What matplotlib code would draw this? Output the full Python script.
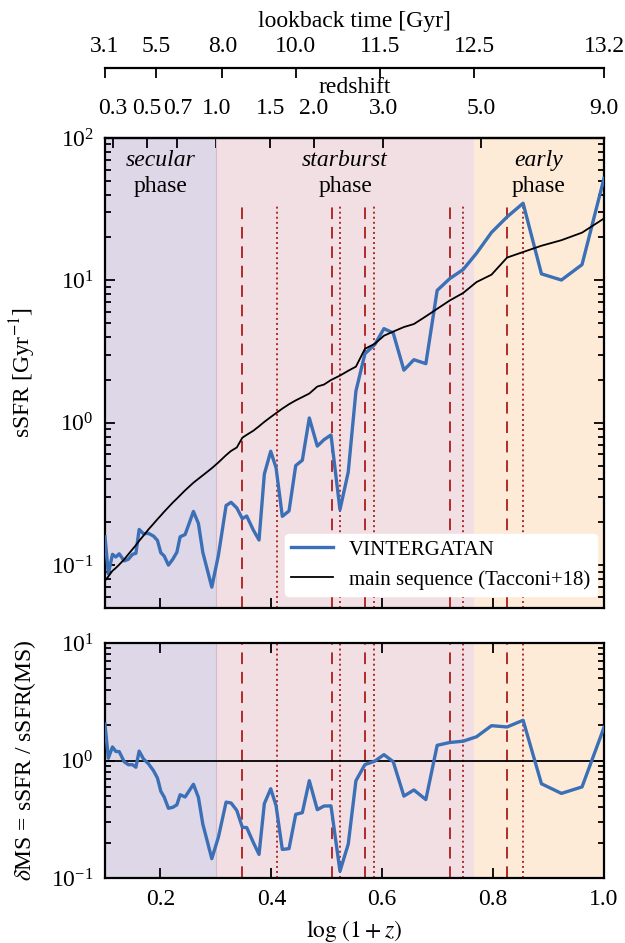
import numpy as np
import matplotlib
matplotlib.use("Agg")
import matplotlib.pyplot as plt
from matplotlib.ticker import LogLocator, LogFormatterMathtext, NullFormatter

plt.rcParams['font.family'] = ['Liberation Serif', 'DejaVu Serif']
plt.rcParams['mathtext.fontset'] = 'stix'

# ---------------- data ----------------
logz = [0.100, 0.106, 0.1135, 0.1196, 0.1256, 0.1346, 0.1423, 0.1495, 0.1557, 0.1616,
        0.1694, 0.1784, 0.1874, 0.1946, 0.2007, 0.2067, 0.2144, 0.2223, 0.2296, 0.2355,
        0.2445, 0.2595, 0.2685, 0.2764, 0.2926, 0.3045, 0.3184, 0.3274, 0.3377, 0.3477,
        0.3556, 0.3676, 0.3778, 0.3874, 0.3989, 0.4085, 0.4198, 0.4319, 0.4440, 0.4559,
        0.4685, 0.4829, 0.4950, 0.5076, 0.5238, 0.5387, 0.5526, 0.5688, 0.5868, 0.6031,
        0.6198, 0.6391, 0.6571, 0.6787, 0.6991, 0.7220, 0.7459, 0.7701, 0.7971, 0.8252,
        0.8541, 0.8872, 0.9232, 0.9604, 1.000]

ssfr = [0.158, 0.087, 0.119, 0.114, 0.120, 0.107, 0.110, 0.119, 0.121, 0.178,
        0.166, 0.167, 0.160, 0.149, 0.122, 0.116, 0.100, 0.110, 0.123, 0.158,
        0.164, 0.238, 0.196, 0.123, 0.070, 0.117, 0.262, 0.276, 0.252, 0.212,
        0.221, 0.176, 0.150, 0.436, 0.630, 0.483, 0.220, 0.240, 0.500, 0.545,
        1.08, 0.685, 0.76, 0.82, 0.245, 0.450, 1.67, 3.05, 3.55, 4.58,
        4.27, 2.34, 2.77, 2.60, 8.5, 10.3, 11.9, 15.5, 21.7, 27.9,
        34.8, 11.1, 10.05, 12.9, 52.0]

ssfr_ms = [0.0776, 0.0832, 0.0912, 0.0955, 0.1007, 0.1096, 0.1194, 0.1291, 0.138, 0.148,
           0.161, 0.178, 0.195, 0.210, 0.223, 0.237, 0.255, 0.275, 0.293, 0.309,
           0.335, 0.379, 0.404, 0.427, 0.479, 0.526, 0.592, 0.634, 0.670, 0.785,
           0.822, 0.879, 0.944, 1.014, 1.096, 1.167, 1.256, 1.349, 1.435, 1.514,
           1.603, 1.795, 1.854, 1.995, 2.143, 2.317, 2.477, 3.304, 3.589, 4.083,
           4.365, 4.699, 4.932, 5.585, 6.310, 7.228, 8.147, 9.727, 10.96, 14.45,
           15.81, 17.50, 19.14, 21.63, 27.2]

merger_start = [0.3478, 0.510, 0.569, 0.7226, 0.8253]   # dashed
merger_end = [0.4097, 0.5238, 0.586, 0.746, 0.8548]     # dotted

phase_edges = [0.1, 0.301, 0.765, 1.0]
phase_names = ['secular', 'starburst', 'early']
phase_colors = ['#ddd7e8', '#f2dfe3', '#fdebd8']

z_ticks = [0.3, 0.5, 0.7, 1.0, 1.5, 2.0, 3.0, 5.0, 9.0]
lookback_labels = ['3.1', '5.5', '8.0', '10.0', '11.5', '12.5', '13.2']
lookback_z = [0.259, 0.554, 1.05, 1.78, 2.94, 4.83, 9.0]

# -------------- figure -----------------
x = np.array(logz)
ssfr = np.array(ssfr)
ssfr_ms = np.array(ssfr_ms)
dms = ssfr / ssfr_ms

fig = plt.figure(figsize=(6.25, 9.43), dpi=100)
ax1 = fig.add_axes([0.168, 0.3553, 0.7984, 0.4984])
ax2 = fig.add_axes([0.168, 0.0689, 0.7984, 0.2492])

blue = '#3b6fb6'
red = '#b22a2a'
FS = 17

for ax in (ax1, ax2):
    for i in range(3):
        ax.axvspan(phase_edges[i], phase_edges[i + 1], color=phase_colors[i], lw=0, zorder=0)
    ax.axvline(phase_edges[1], color='#d8b8cc', lw=0.8, zorder=0.5)
    ax.set_xlim(0.1, 1.0)
    ax.set_yscale('log')
    for s in ax.spines.values():
        s.set_linewidth(1.6)
    ax.tick_params(which='both', direction='in', right=True, labelsize=FS, width=1.3, pad=8)
    ax.tick_params(which='major', length=7)
    ax.tick_params(which='minor', length=4)
    ax.yaxis.set_major_locator(LogLocator(base=10, numticks=10))
    ax.yaxis.set_minor_locator(LogLocator(base=10, subs=np.arange(2, 10), numticks=20))
    ax.yaxis.set_major_formatter(LogFormatterMathtext())
    ax.yaxis.set_minor_formatter(NullFormatter())
    ax.set_xticks([0.2, 0.4, 0.6, 0.8, 1.0])

# top panel
ax1.set_ylim(0.05, 100)
vfrac = 0.86
for xv in merger_start:
    ax1.axvline(xv, ymax=vfrac, color=red, lw=1.4, ls=(0, (6, 4)), zorder=1)
    ax2.axvline(xv, color=red, lw=1.4, ls=(0, (6, 4)), zorder=1)
for xv in merger_end:
    ax1.axvline(xv, ymax=vfrac, color=red, lw=1.4, ls=(0, (1, 1.6)), zorder=1)
    ax2.axvline(xv, color=red, lw=1.4, ls=(0, (1, 1.6)), zorder=1)

ax1.plot(x, ssfr, color=blue, lw=2.4, label='VINTERGATAN', zorder=3)
ax1.plot(x, ssfr_ms, color='black', lw=1.3, label='main sequence (Tacconi+18)', zorder=3)
ax1.set_ylabel(r'sSFR [Gyr$^{-1}$]', fontsize=FS)
ax1.tick_params(axis='x', top=False, labelbottom=False)
leg = ax1.legend(loc='lower right', fontsize=15, frameon=True, fancybox=True,
                 framealpha=1.0, facecolor='white', edgecolor='white',
                 borderpad=0.3, handlelength=2.0, borderaxespad=0.35,
                 bbox_to_anchor=(1.0, 0.01))

for i, name in enumerate(phase_names):
    cx = 0.5 * (phase_edges[i] + phase_edges[i + 1])
    ax1.text(cx, 0.953, name, transform=ax1.get_xaxis_transform(), ha='center', va='center',
             fontsize=FS, style='italic')
    ax1.text(cx, 0.896, 'phase', transform=ax1.get_xaxis_transform(), ha='center', va='center',
             fontsize=FS)

# redshift axis on top spine
zax = ax1.secondary_xaxis('top')
zax.set_xticks(np.log10(1 + np.array(z_ticks)))
zax.set_xticklabels(['%.1f' % z for z in z_ticks])
zax.tick_params(direction='in', length=7, width=1.3, labelsize=FS, pad=14)
zax.set_xlabel('redshift', fontsize=FS, labelpad=3)
zax.spines['top'].set_linewidth(1.6)

# lookback time axis
lax = ax1.secondary_xaxis(1.149)
lax.set_xticks(np.log10(1 + np.array(lookback_z)))
lax.set_xticklabels(lookback_labels)
lax.tick_params(direction='in', length=7, width=1.3, labelsize=FS, pad=8)
lax.set_xlabel('lookback time [Gyr]', fontsize=FS, labelpad=6)
lax.spines['top'].set_linewidth(1.6)

# bottom panel
ax2.set_ylim(0.1, 10)
ax2.axhline(1.0, color='black', lw=1.3, zorder=2)
ax2.plot(x, dms, color=blue, lw=2.4, zorder=3)
ax2.tick_params(axis='x', top=True)
ax2.set_xticklabels(['0.2', '0.4', '0.6', '0.8', '1.0'])
ax2.set_ylabel(r'$\delta$MS = sSFR / sSFR(MS)', fontsize=FS)
ax2.set_xlabel(r'$\log\,(1+z)$', fontsize=FS, labelpad=6)

ax1.yaxis.set_label_coords(-0.135, 0.5)
ax2.yaxis.set_label_coords(-0.135, 0.5)

fig.savefig('out.png', dpi=100)
